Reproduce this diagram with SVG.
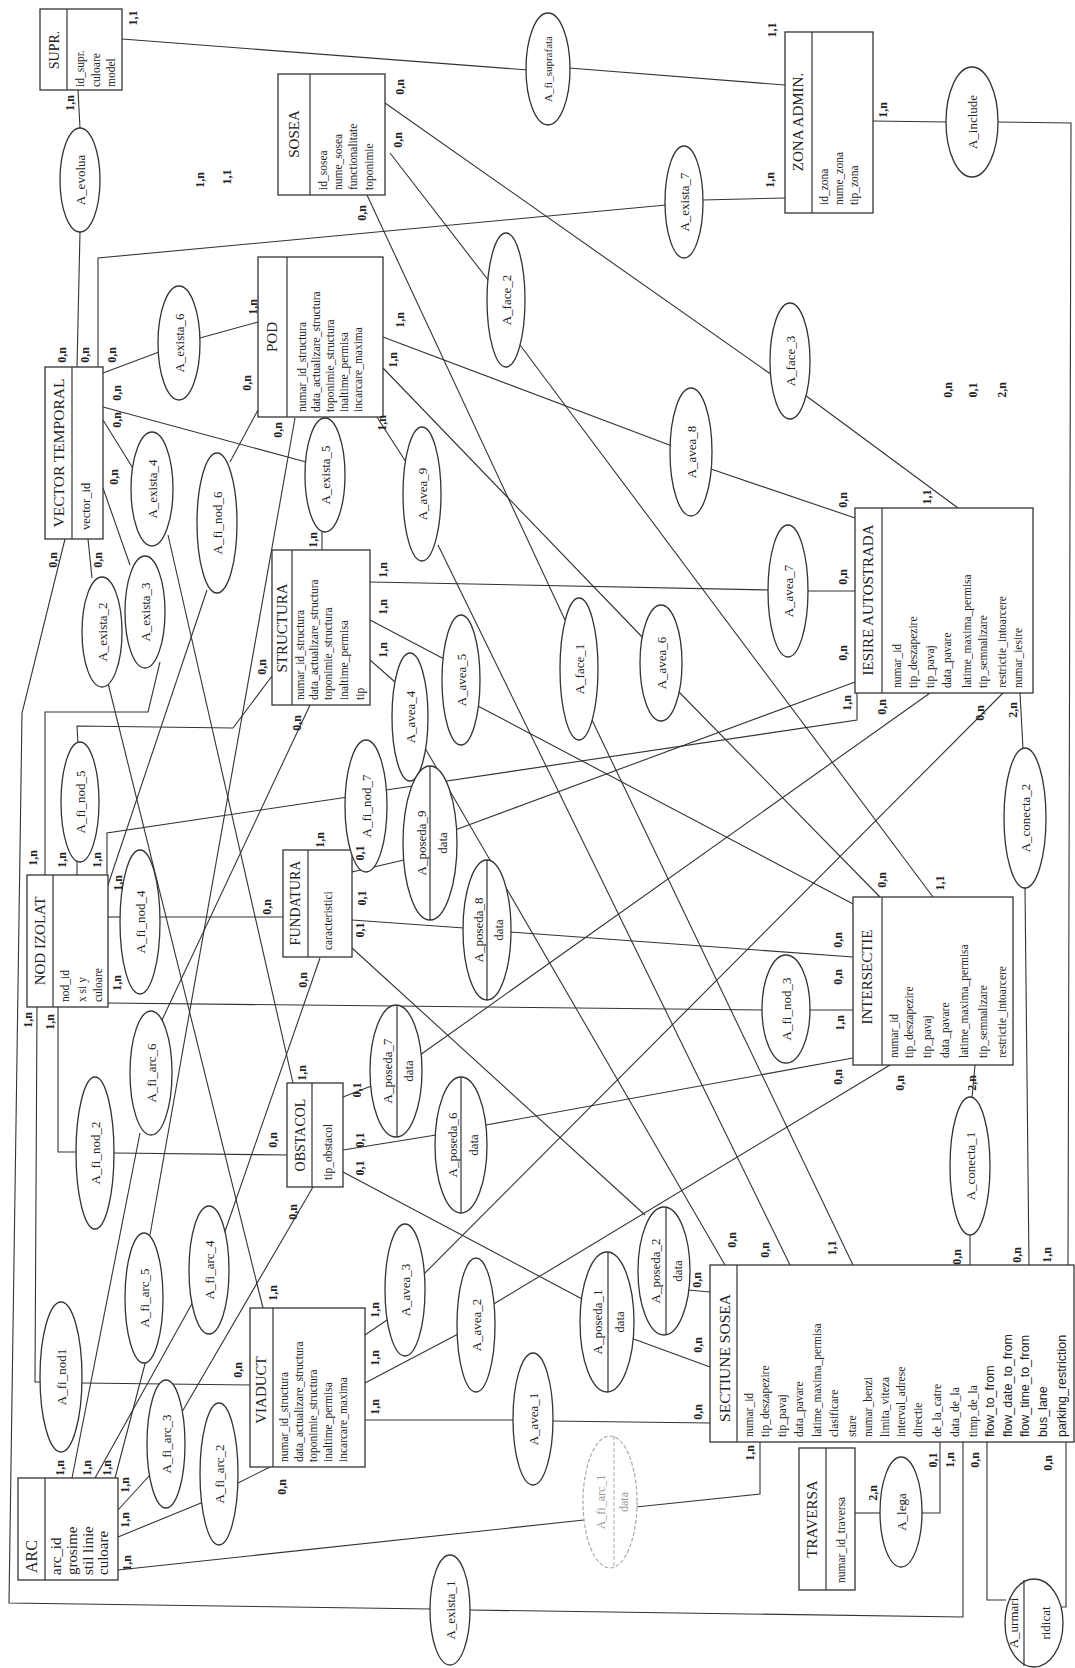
<svg xmlns="http://www.w3.org/2000/svg" width="1075" height="1668" viewBox="0 0 1075 1668">
<style>
text{font-family:"Liberation Serif","Times New Roman",serif;fill:#222}
.r{fill:#fff;stroke:#333;stroke-width:1.3}
.e{fill:#fff;stroke:#333;stroke-width:1.3}
.eg{fill:#fff;stroke:#aaa;stroke-width:1.2;stroke-dasharray:4 2}
.d{stroke:#333;stroke-width:1.2;fill:none}
.dg{stroke:#aaa;stroke-width:1;fill:none;stroke-dasharray:4 2}
.ln path{fill:none;stroke:#333;stroke-width:1.1}
.t{font-size:15px;text-anchor:middle;dominant-baseline:central}
.a{font-size:11.5px;dominant-baseline:central}
.s{font-family:"Liberation Sans",Arial,sans-serif;font-size:12.5px;dominant-baseline:central}
.n{font-size:13px;text-anchor:middle;dominant-baseline:central}
.ng{font-size:12px;text-anchor:middle;dominant-baseline:central;fill:#999}
.c{font-size:12px;font-weight:bold;text-anchor:middle;dominant-baseline:central}
</style>

<g id="connectors" class="ln">
<path d="M78 90 L80 128"/>
<path d="M80 232 L77 367"/>
<path d="M122 39 L528 70"/>
<path d="M569 68 L785 85"/>
<path d="M98 367 L98 258 L666 205"/>
<path d="M702 200 L785 198"/>
<path d="M873 121 L947 122"/>
<path d="M997 122 L1071 123 L1068 1265"/>
<path d="M103 373 L159 352"/>
<path d="M200 338 L258 322"/>
<path d="M103 407 L306 462"/>
<path d="M322 531 L322 550"/>
<path d="M103 420 L134 470"/>
<path d="M168 535 L293 1083"/>
<path d="M103 488 L130 565"/>
<path d="M160 662 L148 712 L45 712 L45 875"/>
<path d="M88 539 L92 578"/>
<path d="M108 683 L263 1308"/>
<path d="M65 539 L22 713 L9 1603 L431 1609"/>
<path d="M469 1610 L963 1617 L963 1442"/>
<path d="M385 103 L772 375"/>
<path d="M805 395 L958 508"/>
<path d="M390 153 L492 285"/>
<path d="M520 345 L933 897"/>
<path d="M367 195 L565 620"/>
<path d="M592 720 L853 1265"/>
<path d="M365 1420 L515 1420"/>
<path d="M551 1421 L710 1423"/>
<path d="M365 1383 L460 1333"/>
<path d="M492 1305 L890 1065"/>
<path d="M365 1335 L390 1318"/>
<path d="M420 1278 L1003 693"/>
<path d="M370 660 L395 682"/>
<path d="M425 748 L725 1265"/>
<path d="M370 620 L446 660"/>
<path d="M476 705 L855 905"/>
<path d="M383 368 L645 640"/>
<path d="M677 690 L880 897"/>
<path d="M370 582 L770 590"/>
<path d="M806 591 L855 591"/>
<path d="M383 337 L672 446"/>
<path d="M708 468 L855 518"/>
<path d="M375 414 L406 462"/>
<path d="M438 545 L790 1265"/>
<path d="M352 872 L404 860"/>
<path d="M455 830 L855 682"/>
<path d="M352 920 L464 928"/>
<path d="M510 932 L853 957"/>
<path d="M352 948 L645 1215"/>
<path d="M688 1290 L710 1292"/>
<path d="M343 1097 L374 1085"/>
<path d="M420 1055 L930 693"/>
<path d="M343 1150 L436 1135"/>
<path d="M486 1125 L853 1058"/>
<path d="M343 1172 L584 1300"/>
<path d="M631 1338 L710 1367"/>
<path d="M37 1007 L35 1382 L41 1382"/>
<path d="M81 1383 L250 1385"/>
<path d="M58 1007 L58 1152 L77 1152"/>
<path d="M114 1153 L287 1155"/>
<path d="M108 1003 L763 1010"/>
<path d="M809 1010 L853 1010"/>
<path d="M108 917 L121 917"/>
<path d="M160 917 L283 917"/>
<path d="M77 875 L77 860"/>
<path d="M78 745 L77 726 L233 728 L272 676"/>
<path d="M108 885 L207 590"/>
<path d="M230 462 L258 410"/>
<path d="M107 875 L107 833 L348 797"/>
<path d="M386 790 L857 720 L857 693"/>
<path d="M118 1570 L584 1520"/>
<path d="M636 1507 L760 1494 L760 1442"/>
<path d="M118 1537 L201 1503"/>
<path d="M236 1484 L270 1467"/>
<path d="M118 1510 L150 1475"/>
<path d="M182 1412 L313 1187"/>
<path d="M95 1478 L194 1300"/>
<path d="M222 1240 L320 958"/>
<path d="M115 1478 L146 1360"/>
<path d="M150 1235 L295 418"/>
<path d="M72 1478 L140 1133"/>
<path d="M162 1020 L310 705"/>
<path d="M975 1065 L972 1098"/>
<path d="M970 1235 L970 1265"/>
<path d="M1020 693 L1023 749"/>
<path d="M1025 888 L1029 1265"/>
<path d="M855 1513 L881 1513"/>
<path d="M921 1513 L940 1513 L940 1442"/>
<path d="M987 1442 L987 1600 L1006 1600"/>
<path d="M1062 1607 L1066 1607 L1066 1442"/>
</g>

<g id="SUPR"><rect class="r" x="40" y="9" width="82" height="81"/><path class="d" d="M67 9V90"/>
<text class="t" transform="translate(54 50) rotate(-90)" style="font-size:14px">SUPR.</text>
<text class="a" transform="translate(80 87) rotate(-90)">id_supr.</text>
<text class="a" transform="translate(96 87) rotate(-90)">culoare</text>
<text class="a" transform="translate(111 87) rotate(-90)">model</text></g>

<g id="SOSEA"><rect class="r" x="278" y="74" width="107" height="121"/><path class="d" d="M310 74V195"/>
<text class="t" transform="translate(294 134) rotate(-90)">SOSEA</text>
<text class="a" transform="translate(323 190) rotate(-90)">id_sosea</text>
<text class="a" transform="translate(338 190) rotate(-90)">nume_sosea</text>
<text class="a" transform="translate(353 190) rotate(-90)">functionalitate</text>
<text class="a" transform="translate(369 190) rotate(-90)">toponimie</text></g>

<g id="ZONA_ADMIN"><rect class="r" x="785" y="32" width="88" height="181"/><path class="d" d="M812 32V213"/>
<text class="t" transform="translate(798 122) rotate(-90)">ZONA ADMIN.</text>
<text class="a" transform="translate(824 205) rotate(-90)">id_zona</text>
<text class="a" transform="translate(839 205) rotate(-90)">nume_zona</text>
<text class="a" transform="translate(854 205) rotate(-90)">tip_zona</text></g>

<g id="VECTOR_TEMPORAL"><rect class="r" x="45" y="367" width="58" height="172"/><path class="d" d="M72 367V539"/>
<text class="t" transform="translate(58 453) rotate(-90)" style="font-size:15.5px">VECTOR TEMPORAL</text>
<text class="a" transform="translate(86 530) rotate(-90)" style="font-size:12.5px">vector_id</text></g>

<g id="POD"><rect class="r" x="258" y="257" width="125" height="160"/><path class="d" d="M287 257V417"/>
<text class="t" transform="translate(272 337) rotate(-90)">POD</text>
<text class="a" transform="translate(302 412) rotate(-90)">numar_id_structura</text>
<text class="a" transform="translate(316 412) rotate(-90)">data_actualizare_structura</text>
<text class="a" transform="translate(330 412) rotate(-90)">toponimie_structura</text>
<text class="a" transform="translate(344 412) rotate(-90)">inaltime_permisa</text>
<text class="a" transform="translate(358 412) rotate(-90)">incarcare_maxima</text></g>

<g id="STRUCTURA"><rect class="r" x="272" y="550" width="98" height="155"/><path class="d" d="M292 550V705"/>
<text class="t" transform="translate(282 628) rotate(-90)">STRUCTURA</text>
<text class="a" transform="translate(300 700) rotate(-90)">numar_id_structura</text>
<text class="a" transform="translate(314 700) rotate(-90)">data_actualizare_structura</text>
<text class="a" transform="translate(328 700) rotate(-90)">toponimie_structura</text>
<text class="a" transform="translate(344 700) rotate(-90)">inaltime_permisa</text>
<text class="a" transform="translate(360 700) rotate(-90)">tip</text></g>

<g id="NOD_IZOLAT"><rect class="r" x="27" y="875" width="81" height="132"/><path class="d" d="M53 875V1007"/>
<text class="t" transform="translate(40 941) rotate(-90)">NOD IZOLAT</text>
<text class="a" transform="translate(65 1002) rotate(-90)">nod_id</text>
<text class="a" transform="translate(82 1002) rotate(-90)">x si y</text>
<text class="a" transform="translate(98 1002) rotate(-90)">culoare</text></g>

<g id="FUNDATURA"><rect class="r" x="283" y="850" width="69" height="107"/><path class="d" d="M308 850V957"/>
<text class="t" transform="translate(295 903) rotate(-90)" style="font-size:14px">FUNDATURA</text>
<text class="a" transform="translate(328 950) rotate(-90)">caracteristici</text></g>

<g id="OBSTACOL"><rect class="r" x="287" y="1083" width="56" height="104"/><path class="d" d="M312 1083V1187"/>
<text class="t" transform="translate(300 1135) rotate(-90)" style="font-size:14px">OBSTACOL</text>
<text class="a" transform="translate(328 1180) rotate(-90)">tip_obstacol</text></g>

<g id="INTERSECTIE"><rect class="r" x="853" y="897" width="160" height="168"/><path class="d" d="M882 897V1065"/>
<text class="t" transform="translate(867 977) rotate(-90)">INTERSECTIE</text>
<text class="a" transform="translate(894 1058) rotate(-90)">numar_id</text>
<text class="a" transform="translate(909 1058) rotate(-90)">tip_deszapezire</text>
<text class="a" transform="translate(927 1058) rotate(-90)">tip_pavaj</text>
<text class="a" transform="translate(945 1058) rotate(-90)">data_pavare</text>
<text class="a" transform="translate(964 1058) rotate(-90)">latime_maxima_permisa</text>
<text class="a" transform="translate(983 1058) rotate(-90)">tip_semnalizare</text>
<text class="a" transform="translate(1002 1058) rotate(-90)">restrictie_intoarcere</text></g>

<g id="IESIRE_AUTOSTRADA"><rect class="r" x="855" y="508" width="178" height="185"/><path class="d" d="M882 508V693"/>
<text class="t" transform="translate(868 600) rotate(-90)">IESIRE AUTOSTRADA</text>
<text class="a" transform="translate(897 688) rotate(-90)">numar_id</text>
<text class="a" transform="translate(913 688) rotate(-90)">tip_deszapezire</text>
<text class="a" transform="translate(930 688) rotate(-90)">tip_pavaj</text>
<text class="a" transform="translate(947 688) rotate(-90)">data_pavare</text>
<text class="a" transform="translate(967 688) rotate(-90)">latime_maxima_permisa</text>
<text class="a" transform="translate(983 688) rotate(-90)">tip_semnalizare</text>
<text class="a" transform="translate(1002 688) rotate(-90)">restrictie_intoarcere</text>
<text class="a" transform="translate(1018 688) rotate(-90)">numar_iesire</text></g>

<g id="VIADUCT"><rect class="r" x="250" y="1308" width="115" height="159"/><path class="d" d="M273 1308V1467"/>
<text class="t" transform="translate(261 1390) rotate(-90)">VIADUCT</text>
<text class="a" transform="translate(284 1462) rotate(-90)">numar_id_structura</text>
<text class="a" transform="translate(299 1462) rotate(-90)">data_actualizare_structura</text>
<text class="a" transform="translate(313 1462) rotate(-90)">toponimie_structura</text>
<text class="a" transform="translate(328 1462) rotate(-90)">inaltime_permisa</text>
<text class="a" transform="translate(343 1462) rotate(-90)">incarcare_maxima</text></g>

<g id="ARC"><rect class="r" x="18" y="1478" width="100" height="102"/><path class="d" d="M45 1478V1580"/>
<text transform="translate(31 1573) rotate(-90)" style="font-size:16px;dominant-baseline:central">ARC</text>
<text class="a" transform="translate(56 1575) rotate(-90)" style="font-size:15px">arc_id</text>
<text class="a" transform="translate(72 1575) rotate(-90)" style="font-size:15px">grosime</text>
<text class="a" transform="translate(88 1575) rotate(-90)" style="font-size:15px">stil linie</text>
<text class="a" transform="translate(103 1575) rotate(-90)" style="font-size:15px">culoare</text></g>

<g id="SECTIUNE_SOSEA"><rect class="r" x="710" y="1265" width="364" height="177"/><path class="d" d="M737 1265V1442"/>
<text class="t" transform="translate(724 1358) rotate(-90)" style="font-size:15.5px">SECTIUNE SOSEA</text>
<text class="a" transform="translate(749 1437) rotate(-90)">numar_id</text>
<text class="a" transform="translate(765 1437) rotate(-90)">tip_deszapezire</text>
<text class="a" transform="translate(782 1437) rotate(-90)">tip_pavaj</text>
<text class="a" transform="translate(799 1437) rotate(-90)">data_pavare</text>
<text class="a" transform="translate(817 1437) rotate(-90)">latime_maxima_permisa</text>
<text class="a" transform="translate(834 1437) rotate(-90)">clasificare</text>
<text class="a" transform="translate(852 1437) rotate(-90)">stare</text>
<text class="a" transform="translate(868 1437) rotate(-90)">numar_benzi</text>
<text class="a" transform="translate(885 1437) rotate(-90)">limita_viteza</text>
<text class="a" transform="translate(901 1437) rotate(-90)">interval_adrese</text>
<text class="a" transform="translate(918 1437) rotate(-90)">directie</text>
<text class="a" transform="translate(937 1437) rotate(-90)">de_la_catre</text>
<text class="a" transform="translate(955 1437) rotate(-90)">data_de_la</text>
<text class="a" transform="translate(973 1437) rotate(-90)">timp_de_la</text>
<text class="s" transform="translate(990 1437) rotate(-90)">flow_to_from</text>
<text class="s" transform="translate(1008 1437) rotate(-90)">flow_date_to_from</text>
<text class="s" transform="translate(1025 1437) rotate(-90)">flow_time_to_from</text>
<text class="s" transform="translate(1043 1437) rotate(-90)">bus_lane</text>
<text class="s" transform="translate(1062 1437) rotate(-90)">parking_restriction</text></g>

<g id="TRAVERSA"><rect class="r" x="799" y="1448" width="56" height="142"/><path class="d" d="M826 1448V1590"/>
<text class="t" transform="translate(812 1519) rotate(-90)">TRAVERSA</text>
<text class="a" transform="translate(841 1583) rotate(-90)">numar_id_traversa</text></g>

<g id="A_evolua"><ellipse class="e" cx="80" cy="180" rx="20" ry="52"/><text class="n" transform="translate(80 180) rotate(-90)">A_evolua</text></g>
<g id="A_fi_suprafata"><ellipse class="e" cx="548" cy="69" rx="22" ry="56"/><text class="n" transform="translate(548 69) rotate(-90)" style="font-size:11px">A_fi_suprafata</text></g>
<g id="A_include"><ellipse class="e" cx="972" cy="122" rx="26" ry="55"/><text class="n" transform="translate(972 122) rotate(-90)">A_include</text></g>
<g id="A_exista_7"><ellipse class="e" cx="684" cy="202" rx="19" ry="56"/><text class="n" transform="translate(684 202) rotate(-90)">A_exista_7</text></g>
<g id="A_face_2"><ellipse class="e" cx="506" cy="300" rx="19" ry="67"/><text class="n" transform="translate(506 300) rotate(-90)">A_face_2</text></g>
<g id="A_face_3"><ellipse class="e" cx="790" cy="361" rx="20" ry="58"/><text class="n" transform="translate(790 361) rotate(-90)">A_face_3</text></g>
<g id="A_exista_6"><ellipse class="e" cx="179" cy="343" rx="21" ry="57"/><text class="n" transform="translate(179 343) rotate(-90)">A_exista_6</text></g>
<g id="A_exista_4"><ellipse class="e" cx="152" cy="489" rx="21" ry="57"/><text class="n" transform="translate(152 489) rotate(-90)">A_exista_4</text></g>
<g id="A_fi_nod_6"><ellipse class="e" cx="217" cy="523" rx="20" ry="70"/><text class="n" transform="translate(217 523) rotate(-90)">A_fi_nod_6</text></g>
<g id="A_exista_5"><ellipse class="e" cx="325" cy="475" rx="20" ry="57"/><text class="n" transform="translate(325 475) rotate(-90)">A_exista_5</text></g>
<g id="A_exista_2"><ellipse class="e" cx="102" cy="632" rx="20" ry="55"/><text class="n" transform="translate(102 632) rotate(-90)">A_exista_2</text></g>
<g id="A_exista_3"><ellipse class="e" cx="145" cy="612" rx="20" ry="56"/><text class="n" transform="translate(145 612) rotate(-90)">A_exista_3</text></g>
<g id="A_avea_9"><ellipse class="e" cx="422" cy="494" rx="19" ry="67"/><text class="n" transform="translate(422 494) rotate(-90)">A_avea_9</text></g>
<g id="A_avea_8"><ellipse class="e" cx="691" cy="452" rx="21" ry="64"/><text class="n" transform="translate(691 452) rotate(-90)">A_avea_8</text></g>
<g id="A_avea_7"><ellipse class="e" cx="788" cy="591" rx="20" ry="66"/><text class="n" transform="translate(788 591) rotate(-90)">A_avea_7</text></g>
<g id="A_avea_5"><ellipse class="e" cx="461" cy="680" rx="19" ry="65"/><text class="n" transform="translate(461 680) rotate(-90)">A_avea_5</text></g>
<g id="A_avea_4"><ellipse class="e" cx="410" cy="717" rx="18" ry="64"/><text class="n" transform="translate(410 717) rotate(-90)">A_avea_4</text></g>
<g id="A_face_1"><ellipse class="e" cx="579" cy="669" rx="19" ry="71"/><text class="n" transform="translate(579 669) rotate(-90)">A_face_1</text></g>
<g id="A_avea_6"><ellipse class="e" cx="661" cy="663" rx="21" ry="58"/><text class="n" transform="translate(661 663) rotate(-90)">A_avea_6</text></g>
<g id="A_fi_nod_7"><ellipse class="e" cx="366" cy="806" rx="21" ry="66"/><text class="n" transform="translate(366 806) rotate(-90)">A_fi_nod_7</text></g>
<g id="A_fi_nod_5"><ellipse class="e" cx="80" cy="802" rx="19" ry="60"/><text class="n" transform="translate(80 802) rotate(-90)">A_fi_nod_5</text></g>
<g id="A_fi_nod_4"><ellipse class="e" cx="140" cy="922" rx="20" ry="72"/><text class="n" transform="translate(140 922) rotate(-90)">A_fi_nod_4</text></g>
<g id="A_poseda_9"><ellipse class="e" cx="430" cy="843" rx="27" ry="77"/><path class="d" d="M430 766V920"/><text class="n" transform="translate(421 843) rotate(-90)">A_poseda_9</text><text class="n" transform="translate(442 843) rotate(-90)">data</text></g>
<g id="A_poseda_8"><ellipse class="e" cx="487" cy="930" rx="24" ry="70"/><path class="d" d="M487 860V1000"/><text class="n" transform="translate(478 930) rotate(-90)">A_poseda_8</text><text class="n" transform="translate(498 930) rotate(-90)">data</text></g>
<g id="A_poseda_7"><ellipse class="e" cx="396" cy="1071" rx="26" ry="66"/><path class="d" d="M397 1005V1137"/><text class="n" transform="translate(387 1071) rotate(-90)">A_poseda_7</text><text class="n" transform="translate(408 1071) rotate(-90)">data</text></g>
<g id="A_poseda_6"><ellipse class="e" cx="461" cy="1145" rx="26" ry="68"/><path class="d" d="M461 1077V1213"/><text class="n" transform="translate(452 1145) rotate(-90)">A_poseda_6</text><text class="n" transform="translate(473 1145) rotate(-90)">data</text></g>
<g id="A_fi_nod_3"><ellipse class="e" cx="786" cy="1009" rx="24" ry="54"/><text class="n" transform="translate(786 1009) rotate(-90)">A_fi_nod_3</text></g>
<g id="A_conecta_1"><ellipse class="e" cx="970" cy="1166" rx="20" ry="69"/><text class="n" transform="translate(970 1166) rotate(-90)">A_conecta_1</text></g>
<g id="A_conecta_2"><ellipse class="e" cx="1025" cy="818" rx="21" ry="70"/><text class="n" transform="translate(1025 818) rotate(-90)">A_conecta_2</text></g>
<g id="A_fi_nod_2"><ellipse class="e" cx="95" cy="1153" rx="19" ry="76"/><text class="n" transform="translate(95 1153) rotate(-90)">A_fi_nod_2</text></g>
<g id="A_fi_arc_6"><ellipse class="e" cx="151" cy="1073" rx="21" ry="62"/><text class="n" transform="translate(151 1073) rotate(-90)">A_fi_arc_6</text></g>
<g id="A_fi_arc_4"><ellipse class="e" cx="209" cy="1270" rx="20" ry="64"/><text class="n" transform="translate(209 1270) rotate(-90)">A_fi_arc_4</text></g>
<g id="A_fi_arc_5"><ellipse class="e" cx="144" cy="1298" rx="19" ry="65"/><text class="n" transform="translate(144 1298) rotate(-90)">A_fi_arc_5</text></g>
<g id="A_fi_nod1"><ellipse class="e" cx="61" cy="1377" rx="21" ry="75"/><text class="n" transform="translate(61 1377) rotate(-90)">A_fi_nod1</text></g>
<g id="A_fi_arc_3"><ellipse class="e" cx="166" cy="1444" rx="19" ry="64"/><text class="n" transform="translate(166 1444) rotate(-90)">A_fi_arc_3</text></g>
<g id="A_fi_arc_2"><ellipse class="e" cx="219" cy="1474" rx="19" ry="71"/><text class="n" transform="translate(219 1474) rotate(-90)">A_fi_arc_2</text></g>
<g id="A_avea_3"><ellipse class="e" cx="405" cy="1290" rx="20" ry="66"/><text class="n" transform="translate(405 1290) rotate(-90)">A_avea_3</text></g>
<g id="A_avea_2"><ellipse class="e" cx="476" cy="1325" rx="19" ry="67"/><text class="n" transform="translate(476 1325) rotate(-90)">A_avea_2</text></g>
<g id="A_avea_1"><ellipse class="e" cx="533" cy="1419" rx="20" ry="66"/><text class="n" transform="translate(533 1419) rotate(-90)">A_avea_1</text></g>
<g id="A_poseda_1"><ellipse class="e" cx="607" cy="1322" rx="27" ry="70"/><path class="d" d="M608 1252V1392"/><text class="n" transform="translate(597 1322) rotate(-90)">A_poseda_1</text><text class="n" transform="translate(619 1322) rotate(-90)">data</text></g>
<g id="A_poseda_2"><ellipse class="e" cx="664" cy="1271" rx="26" ry="64"/><path class="d" d="M666 1207V1335"/><text class="n" transform="translate(655 1271) rotate(-90)">A_poseda_2</text><text class="n" transform="translate(677 1271) rotate(-90)">data</text></g>
<g id="A_fi_arc_1"><ellipse class="eg" cx="610" cy="1502" rx="27" ry="66"/><path class="dg" d="M614 1436V1568"/><text class="ng" transform="translate(601 1502) rotate(-90)">A_fi_arc_1</text><text class="ng" transform="translate(624 1502) rotate(-90)">data</text></g>
<g id="A_exista_1"><ellipse class="e" cx="450" cy="1610" rx="20" ry="55"/><text class="n" transform="translate(450 1610) rotate(-90)">A_exista_1</text></g>
<g id="A_lega"><ellipse class="e" cx="901" cy="1512" rx="21" ry="55"/><text class="n" transform="translate(901 1512) rotate(-90)">A_lega</text></g>
<g id="A_urmari"><ellipse class="e" cx="1034" cy="1623" rx="29" ry="44"/><path class="d" d="M1024 1580V1666"/><text class="n" transform="translate(1013 1623) rotate(-90)">A_urmari</text><text class="n" transform="translate(1045 1623) rotate(-90)">ridicat</text></g>

<g id="labels">
<text class="c" transform="translate(133 18) rotate(-90)">1,1</text>
<text class="c" transform="translate(70 103) rotate(-90)">1,n</text>
<text class="c" transform="translate(772 30) rotate(-90)">1,1</text>
<text class="c" transform="translate(770 180) rotate(-90)">1,n</text>
<text class="c" transform="translate(883 110) rotate(-90)">1,n</text>
<text class="c" transform="translate(400 87) rotate(-90)">0,n</text>
<text class="c" transform="translate(398 140) rotate(-90)">0,n</text>
<text class="c" transform="translate(362 213) rotate(-90)">0,n</text>
<text class="c" transform="translate(200 180) rotate(-90)">1,n</text>
<text class="c" transform="translate(227 177) rotate(-90)">1,1</text>
<text class="c" transform="translate(948 390) rotate(-90)">0,n</text>
<text class="c" transform="translate(973 390) rotate(-90)">0,1</text>
<text class="c" transform="translate(1002 390) rotate(-90)">2,n</text>
<text class="c" transform="translate(62 355) rotate(-90)">0,n</text>
<text class="c" transform="translate(85 355) rotate(-90)">0,n</text>
<text class="c" transform="translate(112 355) rotate(-90)">0,n</text>
<text class="c" transform="translate(117 393) rotate(-90)">0,n</text>
<text class="c" transform="translate(117 420) rotate(-90)">0,n</text>
<text class="c" transform="translate(114 477) rotate(-90)">0,n</text>
<text class="c" transform="translate(98 560) rotate(-90)">0,n</text>
<text class="c" transform="translate(53 560) rotate(-90)">0,n</text>
<text class="c" transform="translate(253 307) rotate(-90)">1,n</text>
<text class="c" transform="translate(247 383) rotate(-90)">0,n</text>
<text class="c" transform="translate(400 320) rotate(-90)">1,n</text>
<text class="c" transform="translate(393 360) rotate(-90)">1,n</text>
<text class="c" transform="translate(382 423) rotate(-90)">1,n</text>
<text class="c" transform="translate(278 430) rotate(-90)">0,n</text>
<text class="c" transform="translate(313 540) rotate(-90)">1,n</text>
<text class="c" transform="translate(262 667) rotate(-90)">0,n</text>
<text class="c" transform="translate(297 723) rotate(-90)">0,n</text>
<text class="c" transform="translate(383 570) rotate(-90)">1,n</text>
<text class="c" transform="translate(383 607) rotate(-90)">1,n</text>
<text class="c" transform="translate(383 650) rotate(-90)">1,n</text>
<text class="c" transform="translate(33 858) rotate(-90)">1,n</text>
<text class="c" transform="translate(62 860) rotate(-90)">1,n</text>
<text class="c" transform="translate(97 860) rotate(-90)">1,n</text>
<text class="c" transform="translate(118 883) rotate(-90)">1,n</text>
<text class="c" transform="translate(117 983) rotate(-90)">1,n</text>
<text class="c" transform="translate(28 1020) rotate(-90)">1,n</text>
<text class="c" transform="translate(50 1022) rotate(-90)">1,n</text>
<text class="c" transform="translate(320 840) rotate(-90)">1,n</text>
<text class="c" transform="translate(267 907) rotate(-90)">0,n</text>
<text class="c" transform="translate(303 980) rotate(-90)">0,n</text>
<text class="c" transform="translate(360 853) rotate(-90)">0,1</text>
<text class="c" transform="translate(362 898) rotate(-90)">0,1</text>
<text class="c" transform="translate(360 930) rotate(-90)">0,1</text>
<text class="c" transform="translate(302 1073) rotate(-90)">1,n</text>
<text class="c" transform="translate(273 1140) rotate(-90)">0,n</text>
<text class="c" transform="translate(293 1212) rotate(-90)">0,n</text>
<text class="c" transform="translate(357 1090) rotate(-90)">0,1</text>
<text class="c" transform="translate(360 1140) rotate(-90)">0,1</text>
<text class="c" transform="translate(360 1168) rotate(-90)">0,1</text>
<text class="c" transform="translate(882 880) rotate(-90)">0,n</text>
<text class="c" transform="translate(940 883) rotate(-90)">1,1</text>
<text class="c" transform="translate(838 940) rotate(-90)">0,n</text>
<text class="c" transform="translate(838 977) rotate(-90)">0,n</text>
<text class="c" transform="translate(840 1023) rotate(-90)">1,n</text>
<text class="c" transform="translate(838 1077) rotate(-90)">0,n</text>
<text class="c" transform="translate(900 1083) rotate(-90)">0,n</text>
<text class="c" transform="translate(972 1083) rotate(-90)">2,n</text>
<text class="c" transform="translate(843 500) rotate(-90)">0,n</text>
<text class="c" transform="translate(927 497) rotate(-90)">1,1</text>
<text class="c" transform="translate(843 577) rotate(-90)">0,n</text>
<text class="c" transform="translate(843 653) rotate(-90)">0,n</text>
<text class="c" transform="translate(847 703) rotate(-90)">1,n</text>
<text class="c" transform="translate(882 707) rotate(-90)">0,n</text>
<text class="c" transform="translate(980 713) rotate(-90)">0,n</text>
<text class="c" transform="translate(1013 710) rotate(-90)">2,n</text>
<text class="c" transform="translate(273 1293) rotate(-90)">1,n</text>
<text class="c" transform="translate(238 1370) rotate(-90)">0,n</text>
<text class="c" transform="translate(282 1487) rotate(-90)">0,n</text>
<text class="c" transform="translate(375 1310) rotate(-90)">1,n</text>
<text class="c" transform="translate(375 1358) rotate(-90)">1,n</text>
<text class="c" transform="translate(375 1407) rotate(-90)">1,n</text>
<text class="c" transform="translate(60 1468) rotate(-90)">1,n</text>
<text class="c" transform="translate(87 1468) rotate(-90)">1,n</text>
<text class="c" transform="translate(107 1468) rotate(-90)">1,n</text>
<text class="c" transform="translate(125 1485) rotate(-90)">1,n</text>
<text class="c" transform="translate(125 1520) rotate(-90)">1,n</text>
<text class="c" transform="translate(127 1563) rotate(-90)">1,n</text>
<text class="c" transform="translate(732 1240) rotate(-90)">0,n</text>
<text class="c" transform="translate(765 1250) rotate(-90)">0,n</text>
<text class="c" transform="translate(832 1248) rotate(-90)">1,1</text>
<text class="c" transform="translate(957 1257) rotate(-90)">0,n</text>
<text class="c" transform="translate(1017 1255) rotate(-90)">0,n</text>
<text class="c" transform="translate(1047 1255) rotate(-90)">1,n</text>
<text class="c" transform="translate(697 1280) rotate(-90)">0,n</text>
<text class="c" transform="translate(698 1345) rotate(-90)">0,n</text>
<text class="c" transform="translate(698 1412) rotate(-90)">0,n</text>
<text class="c" transform="translate(750 1453) rotate(-90)">1,n</text>
<text class="c" transform="translate(933 1460) rotate(-90)">0,1</text>
<text class="c" transform="translate(950 1460) rotate(-90)">1,n</text>
<text class="c" transform="translate(975 1460) rotate(-90)">0,n</text>
<text class="c" transform="translate(1048 1463) rotate(-90)">0,n</text>
<text class="c" transform="translate(873 1493) rotate(-90)">2,n</text>
</g>
</svg>
